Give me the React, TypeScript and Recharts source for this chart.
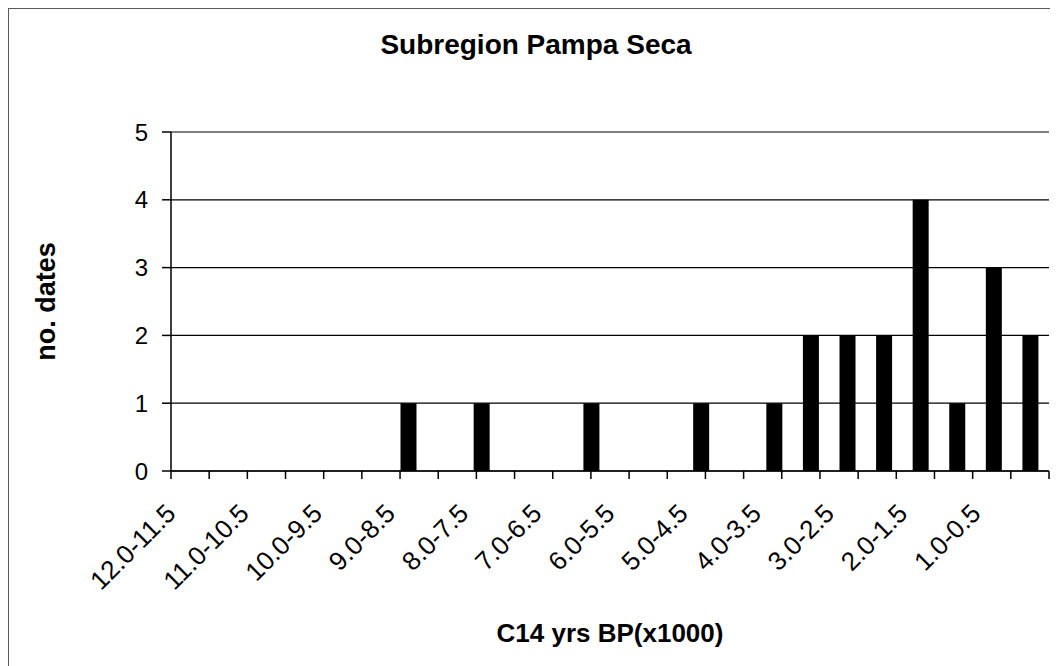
import React from 'react';
import { BarChart, Bar, XAxis, YAxis, CartesianGrid, ReferenceLine, Label } from 'recharts';

const FONT = '"Liberation Sans", Arial, Helvetica, sans-serif';

// 0.5 ka bins, oldest first
const categories = [
  '12.0-11.5', '11.5-11.0', '11.0-10.5', '10.5-10.0', '10.0-9.5', '9.5-9.0',
  '9.0-8.5', '8.5-8.0', '8.0-7.5', '7.5-7.0', '7.0-6.5', '6.5-6.0',
  '6.0-5.5', '5.5-5.0', '5.0-4.5', '4.5-4.0', '4.0-3.5', '3.5-3.0',
  '3.0-2.5', '2.5-2.0', '2.0-1.5', '1.5-1.0', '1.0-0.5', '0.5-0.0',
];
const dateCounts = [0, 0, 0, 0, 0, 0, 1, 0, 1, 0, 0, 1, 0, 0, 1, 0, 1, 2, 2, 2, 4, 1, 3, 2];
const yTicks = [0, 1, 2, 3, 4, 5];
// bin boundaries, used for the tick marks between categories
const binEdges = [0, 1, 2, 3, 4, 5, 6, 7, 8, 9, 10, 11, 12, 13, 14, 15, 16, 17, 18, 19, 20, 21, 22, 23, 24];

const data = categories.map((range, i) => ({ range, dates: dateCounts[i] }));

// axes with zero height are not drawn, so both bottom axes get a sliver
const AXIS_H = 0.01;

const SlantedTick = (props: any) => {
  const { x, y, payload } = props;
  const ax = x - 12;
  const ay = y + 44;
  return (
    <text
      x={ax}
      y={ay}
      textAnchor="end"
      fontSize={26}
      fill="#000"
      fontFamily={FONT}
      transform={`rotate(-45 ${ax} ${ay})`}
    >
      {payload.value}
    </text>
  );
};

export default function App() {
  return (
    <div style={{ position: 'relative', width: 1050, height: 658, fontFamily: FONT }}>
      <div
        style={{
          position: 'absolute', left: -1, top: -1, width: 1051, height: 659,
          borderLeft: '2px solid #5a5a5a', borderTop: '2px solid #5a5a5a', boxSizing: 'border-box',
        }}
      />
      <svg width={1050} height={80} style={{ position: 'absolute', left: 0, top: 0 }}>
        <text x={528} y={46} textAnchor="middle" fontSize={28} fontWeight="bold" fill="#000" fontFamily={FONT}>
          Subregion Pampa Seca
        </text>
      </svg>
      <div style={{ position: 'absolute', left: 0, top: 0 }}>
        <BarChart
          width={1050}
          height={658}
          data={data}
          margin={{ top: 124, right: 9, bottom: 195 - 2 * AXIS_H, left: 0 }}
          barSize={16}
        >
          <CartesianGrid xAxisId="cat" vertical={false} stroke="#000" strokeWidth={1.2} />
          <XAxis
            xAxisId="edge"
            type="number"
            domain={[0, 24]}
            ticks={binEdges}
            height={AXIS_H}
            axisLine={false}
            tickSize={8}
            tickLine={{ stroke: '#000', strokeWidth: 1.5 }}
            tickFormatter={() => ''}
          />
          <XAxis
            xAxisId="cat"
            dataKey="range"
            interval={1}
            height={AXIS_H}
            tickSize={0}
            tickMargin={0}
            tickLine={false}
            axisLine={{ stroke: '#000', strokeWidth: 1.5 }}
            tick={<SlantedTick />}
          >
            <Label
              content={(p: any) => {
                const vb = p.viewBox;
                return (
                  <text
                    x={vb.x + vb.width / 2}
                    y={vb.y + 171}
                    textAnchor="middle"
                    fontSize={26}
                    fontWeight="bold"
                    fill="#000"
                    fontFamily={FONT}
                  >
                    C14 yrs BP(x1000)
                  </text>
                );
              }}
            />
          </XAxis>
          <YAxis
            domain={[0, 5]}
            ticks={yTicks}
            width={163}
            tickSize={9}
            tickMargin={14}
            axisLine={{ stroke: '#000', strokeWidth: 1.5 }}
            tickLine={{ stroke: '#000', strokeWidth: 1.5 }}
            tick={{ fontSize: 24, fill: '#000', fontFamily: FONT }}
          >
            <Label
              content={(p: any) => {
                const vb = p.viewBox;
                const cx = vb.x + 47;
                const cy = vb.y + vb.height / 2;
                return (
                  <text
                    x={cx}
                    y={cy}
                    textAnchor="middle"
                    fontSize={27}
                    fontWeight="bold"
                    fill="#000"
                    fontFamily={FONT}
                    transform={`rotate(-90 ${cx} ${cy})`}
                  >
                    no. dates
                  </text>
                );
              }}
            />
          </YAxis>
          <ReferenceLine xAxisId="edge" x={24} stroke="#333" strokeWidth={1.5} />
          <Bar xAxisId="cat" dataKey="dates" fill="#000" isAnimationActive={false} />
        </BarChart>
      </div>
    </div>
  );
}
